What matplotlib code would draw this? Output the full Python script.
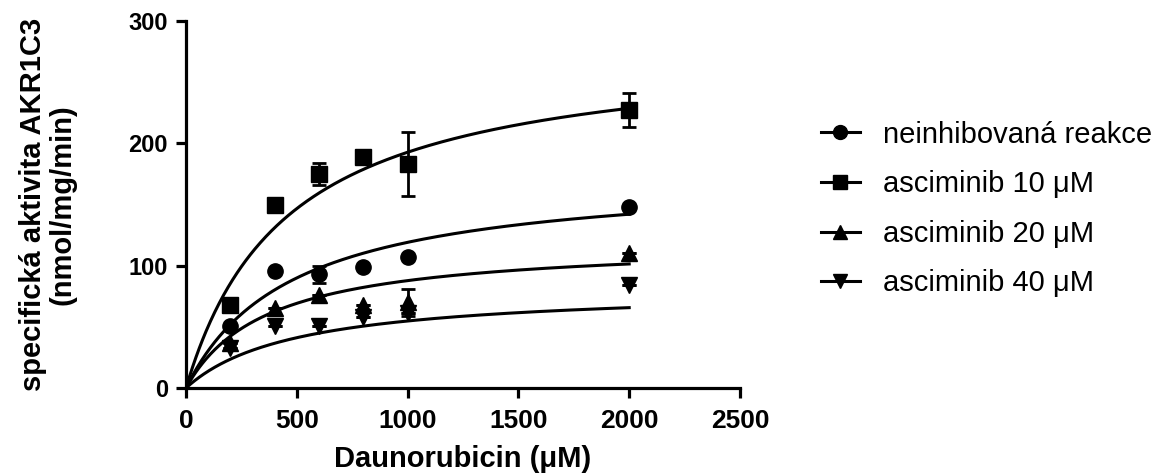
import matplotlib.pyplot as plt
import numpy as np
from matplotlib.lines import Line2D

plt.rcParams['font.family'] = ['Liberation Sans', 'DejaVu Sans']

# daunorubicin concentrations (uM)
conc = [200, 400, 600, 800, 1000, 2000]

# specific activity, nmol/mg/min
uninhibited = [51, 96, 93, 99, 107, 148]
uninhibited_err = [0, 0, 7, 0, 0, 0]
asc10 = [68, 150, 175, 189, 183, 227]
asc10_err = [0, 0, 9, 3, 26, 14]
asc20 = [37, 65, 76, 68, 70, 110]
asc20_err = [0, 0, 0, 0, 11, 0]
asc40 = [33, 51, 51, 58, 61, 84]
asc40_err = [0, 0, 0, 0, 0, 0]

# Michaelis-Menten fit parameters (Vmax, Km)
vmax = [176, 281, 120, 82]
km = [478, 458, 367, 497]

labels = ['neinhibovaná reakce', 'asciminib 10 μM', 'asciminib 20 μM', 'asciminib 40 μM']
markers = ['o', 's', '^', 'v']
sizes = [11, 11, 11, 11]

series = [uninhibited, asc10, asc20, asc40]
errors = [uninhibited_err, asc10_err, asc20_err, asc40_err]

fig = plt.figure(figsize=(11.64, 4.75), dpi=100)
ax = fig.add_axes([186/1164, 1 - 388/475, 554/1164, 367/475])

s = np.linspace(0, 2000, 400)
for i in range(4):
    ax.plot(s, vmax[i] * s / (km[i] + s), color='black', lw=2.2, zorder=2)
    ax.errorbar(conc, series[i], yerr=errors[i], fmt=markers[i], color='black',
                ms=sizes[i], elinewidth=2, capsize=5, capthick=2, zorder=3)

ax.set_xlim(0, 2500)
ax.set_ylim(0, 300)
ax.set_xticks([0, 500, 1000, 1500, 2000, 2500])
ax.set_yticks([0, 100, 200, 300])
for side in ['top', 'right']:
    ax.spines[side].set_visible(False)
for side in ['left', 'bottom']:
    ax.spines[side].set_linewidth(2.3)
ax.tick_params(width=2.3, length=7)
ax.tick_params(axis='x', labelsize=19, pad=8)
ax.tick_params(axis='y', labelsize=17, pad=6)
for lab in ax.get_xticklabels() + ax.get_yticklabels():
    lab.set_fontweight('bold')

ax.set_xlabel('Daunorubicin (μM)', fontsize=21, fontweight='bold', labelpad=9)
ax.set_ylabel('specifická aktivita AKR1C3\n(nmol/mg/min)', fontsize=21,
              fontweight='bold', linespacing=1.1)
ax.yaxis.set_label_coords(-109/554, 0.5)

handles = [Line2D([0], [0], color='black', lw=2.2, marker=markers[i], ms=10)
           for i in range(4)]
fig.legend(handles, labels, loc='upper left', bbox_to_anchor=(806/1164, 1 - 106/475),
           frameon=False, fontsize=21, handlelength=1.35, handletextpad=0.8,
           labelspacing=0.74, borderpad=0)

fig.savefig('out.png', dpi=100)
